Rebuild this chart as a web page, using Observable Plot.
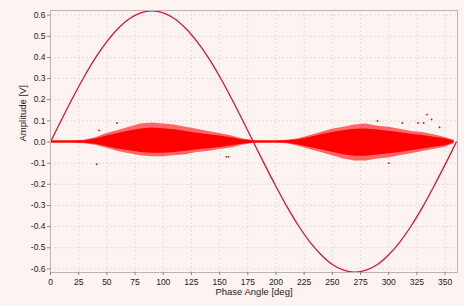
<!DOCTYPE html>
<html><head>
<meta charset="utf-8">
<script src="https://cdn.jsdelivr.net/npm/d3@7"></script>
<script src="https://cdn.jsdelivr.net/npm/@observablehq/plot@0.6"></script>
<style>
body{margin:0;background:#fdf3f0;}
#chart svg{display:block;}
</style>
</head><body><div id="chart"></div>
<script>
// Sine reference curve (deg, V)
const sineDeg = [0,10,20,30,40,50,60,70,80,90,100,110,120,130,140,150,160,170,180,190,200,210,220,230,240,250,260,270,280,290,300,310,320,330,340,350,360];
const sineAmp = [0,0.108,0.212,0.31,0.399,0.475,0.537,0.583,0.611,0.62,0.611,0.583,0.537,0.475,0.399,0.31,0.212,0.108,0,-0.107,-0.21,-0.308,-0.396,-0.472,-0.533,-0.579,-0.606,-0.615,-0.606,-0.579,-0.533,-0.472,-0.396,-0.308,-0.21,-0.107,0];
// Noise band envelope (sparse outer / dense core)
const bandDeg = [0,10,20,30,40,50,60,70,80,90,100,110,120,130,140,150,160,170,180,190,200,210,220,230,240,250,260,270,280,290,300,310,320,330,340,350,358];
const outerHi = [0.006,0.006,0.006,0.008,0.02,0.04,0.055,0.07,0.085,0.09,0.085,0.08,0.07,0.06,0.05,0.04,0.03,0.015,0.007,0.006,0.006,0.008,0.015,0.03,0.045,0.06,0.07,0.08,0.085,0.075,0.07,0.06,0.05,0.045,0.035,0.022,0.008];
const outerLo = [-0.006,-0.006,-0.006,-0.008,-0.015,-0.03,-0.045,-0.055,-0.065,-0.07,-0.07,-0.065,-0.06,-0.05,-0.045,-0.035,-0.028,-0.015,-0.007,-0.006,-0.006,-0.008,-0.02,-0.035,-0.05,-0.065,-0.08,-0.09,-0.09,-0.08,-0.075,-0.065,-0.055,-0.045,-0.035,-0.025,-0.008];
const coreHi = [0.005,0.005,0.005,0.006,0.014,0.028,0.04,0.052,0.062,0.066,0.063,0.058,0.05,0.042,0.035,0.028,0.02,0.011,0.005,0.005,0.005,0.006,0.011,0.022,0.034,0.045,0.053,0.06,0.062,0.057,0.051,0.044,0.037,0.031,0.023,0.015,0.005];
const coreLo = [-0.005,-0.005,-0.005,-0.006,-0.011,-0.022,-0.033,-0.041,-0.049,-0.053,-0.053,-0.049,-0.044,-0.037,-0.032,-0.026,-0.019,-0.011,-0.005,-0.005,-0.005,-0.006,-0.014,-0.026,-0.037,-0.048,-0.06,-0.067,-0.067,-0.061,-0.056,-0.049,-0.041,-0.033,-0.025,-0.018,-0.005];
// Isolated outlier points
const outDeg = [41, 59, 43, 156, 158, 312, 326, 331, 334, 338, 345, 300, 290];
const outAmp = [-0.105, 0.09, 0.055, -0.07, -0.07, 0.09, 0.09, 0.09, 0.13, 0.107, 0.07, -0.1, 0.1];
// Ticks
const xTicks = [0,25,50,75,100,125,150,175,200,225,250,275,300,325,350];
const yTicks = [-0.6,-0.5,-0.4,-0.3,-0.2,-0.1,0,0.1,0.2,0.3,0.4,0.5,0.6];

const sine = sineDeg.map((d,i)=>({deg:d, v:sineAmp[i]}));
const band = bandDeg.map((d,i)=>({deg:d, oh:outerHi[i], ol:outerLo[i], ch:coreHi[i], cl:coreLo[i]}));
const outs = outDeg.map((d,i)=>({deg:d, v:outAmp[i]}));
const fmtY = d => d.toFixed(1).replace("\u2212","-");

const chart = Plot.plot({
  width: 464, height: 306,
  marginLeft: 50, marginRight: 7, marginTop: 10, marginBottom: 34,
  style: {background:"#fdf3f0", fontFamily:"Liberation Sans, Arial, sans-serif", fontSize:"8.5px", color:"#222"},
  x: {domain:[0,361]},
  y: {domain:[-0.617,0.622]},
  marks: [
    Plot.gridX(xTicks, {stroke:"#ecdcd8", strokeOpacity:1, strokeDasharray:"2,2"}),
    Plot.gridY(yTicks, {stroke:"#ecdcd8", strokeOpacity:1, strokeDasharray:"2,2"}),
    Plot.areaY(band, {x:"deg", y1:"ol", y2:"oh", fill:"#ff1010", fillOpacity:0.62, curve:"linear"}),
    Plot.areaY(band, {x:"deg", y1:"cl", y2:"ch", fill:"#ff0000", fillOpacity:1, curve:"linear"}),
    Plot.dot(outs, {x:"deg", y:"v", r:0.9, fill:"#e81010", stroke:"none"}),
    Plot.line(sine, {x:"deg", y:"v", stroke:"#d4163a", strokeWidth:1.3, curve:"catmull-rom"}),
    Plot.frame({stroke:"#bdb3b1"}),
    Plot.axisX(xTicks, {tickSize:3, tickPadding:3, stroke:"#888", label:null, tickFormat:d=>String(d)}),
    Plot.axisY(yTicks, {tickSize:3, tickPadding:2, stroke:"#888", label:null, tickFormat:fmtY}),
    Plot.text(["Phase Angle [deg]"], {frameAnchor:"bottom", dy:22, fontSize:9.5, fill:"#222"}),
    Plot.text(["Amplitude [V]"], {frameAnchor:"left", dx:-28, rotate:-90, fontSize:9.5, fill:"#222"})
  ]
});
document.getElementById("chart").append(chart);
</script>
</body></html>
